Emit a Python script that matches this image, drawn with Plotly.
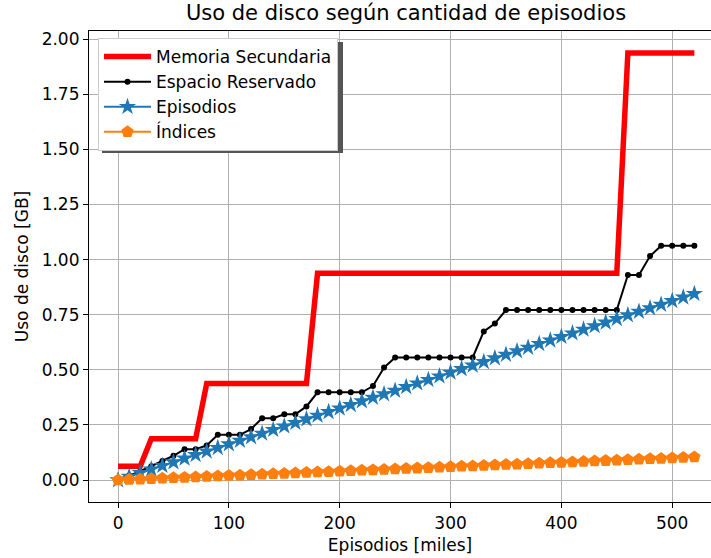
# plot.py — uso de disco según cantidad de episodios (réplica del gráfico matplotlib).

import plotly.graph_objects as go

FONT = "DejaVu Sans"

episodios_miles = [
    0, 10, 20, 30, 40, 50, 60, 70, 80, 90,
    100, 110, 120, 130, 140, 150, 160, 170, 180, 190,
    200, 210, 220, 230, 240, 250, 260, 270, 280, 290,
    300, 310, 320, 330, 340, 350, 360, 370, 380, 390,
    400, 410, 420, 430, 440, 450, 460, 470, 480, 490,
    500, 510, 520,
]

memoria_secundaria = [
    0.0625, 0.0625, 0.0625, 0.1875, 0.1875, 0.1875, 0.1875, 0.1875, 0.4375, 0.4375,
    0.4375, 0.4375, 0.4375, 0.4375, 0.4375, 0.4375, 0.4375, 0.4375, 0.9375, 0.9375,
    0.9375, 0.9375, 0.9375, 0.9375, 0.9375, 0.9375, 0.9375, 0.9375, 0.9375, 0.9375,
    0.9375, 0.9375, 0.9375, 0.9375, 0.9375, 0.9375, 0.9375, 0.9375, 0.9375, 0.9375,
    0.9375, 0.9375, 0.9375, 0.9375, 0.9375, 0.9375, 1.9375, 1.9375, 1.9375, 1.9375,
    1.9375, 1.9375, 1.9375,
]

espacio_reservado = [
    0.004, 0.020, 0.040, 0.063, 0.086, 0.110, 0.140, 0.140, 0.157, 0.205,
    0.205, 0.205, 0.231, 0.280, 0.280, 0.298, 0.298, 0.334, 0.398, 0.398,
    0.398, 0.398, 0.398, 0.426, 0.510, 0.556, 0.556, 0.556, 0.556, 0.556,
    0.556, 0.556, 0.556, 0.674, 0.710, 0.771, 0.771, 0.771, 0.771, 0.771,
    0.771, 0.771, 0.771, 0.771, 0.771, 0.771, 0.930, 0.930, 1.016, 1.063,
    1.063, 1.063, 1.063,
]

episodios = [
    0.000, 0.016, 0.033, 0.049, 0.065, 0.081, 0.098, 0.114, 0.130, 0.146,
    0.163, 0.179, 0.195, 0.211, 0.228, 0.244, 0.260, 0.276, 0.293, 0.309,
    0.325, 0.341, 0.358, 0.374, 0.390, 0.406, 0.423, 0.439, 0.455, 0.471,
    0.488, 0.504, 0.520, 0.536, 0.553, 0.569, 0.585, 0.601, 0.618, 0.634,
    0.650, 0.666, 0.683, 0.699, 0.715, 0.731, 0.748, 0.764, 0.780, 0.796,
    0.813, 0.829, 0.845,
]

indices = [
    0.000, 0.002, 0.004, 0.006, 0.008, 0.010, 0.012, 0.014, 0.016, 0.018,
    0.020, 0.022, 0.024, 0.026, 0.028, 0.030, 0.032, 0.034, 0.036, 0.038,
    0.040, 0.042, 0.044, 0.046, 0.048, 0.050, 0.052, 0.054, 0.056, 0.058,
    0.060, 0.062, 0.064, 0.066, 0.068, 0.070, 0.072, 0.074, 0.076, 0.078,
    0.080, 0.082, 0.084, 0.086, 0.088, 0.090, 0.092, 0.094, 0.096, 0.098,
    0.100, 0.102, 0.104,
]

y_ticks = [0, 0.25, 0.5, 0.75, 1.0, 1.25, 1.5, 1.75, 2.0]
x_ticks = [0, 100, 200, 300, 400, 500]

# área del gráfico en píxeles (izquierda, arriba, ancho, alto)
PL, PT, PW, PH = 89, 31, 622, 471


def px_x(p):
    return (p - PL) / PW


def px_y(p):
    return (PT + PH - p) / PH


fig = go.Figure()
fig.add_trace(go.Scatter(
    x=episodios_miles, y=memoria_secundaria, mode="lines",
    name="Memoria Secundaria", line=dict(color="#ff0000", width=5.5),
))
fig.add_trace(go.Scatter(
    x=episodios_miles, y=espacio_reservado, mode="lines+markers",
    name="Espacio Reservado", line=dict(color="#000000", width=2),
    marker=dict(symbol="circle", size=6, color="#000000", line=dict(width=0)),
))
fig.add_trace(go.Scatter(
    x=episodios_miles, y=episodios, mode="lines+markers",
    name="Episodios", line=dict(color="#1f77b4", width=2),
    marker=dict(symbol="star", size=13, color="#1f77b4", line=dict(width=0)),
))
fig.add_trace(go.Scatter(
    x=episodios_miles, y=indices, mode="lines+markers",
    name="Índices", line=dict(color="#ff7f0e", width=2),
    marker=dict(symbol="pentagon", size=13, color="#ff7f0e", line=dict(width=0)),
))

axis_common = dict(
    showgrid=True, gridcolor="#b0b0b0", gridwidth=1.2, automargin=False,
    zeroline=False, showline=True, linecolor="#000000", linewidth=1.2,
    ticks="outside", ticklen=5, tickwidth=1.2, tickcolor="#000000",
    tickfont=dict(family=FONT, size=17, color="#000000"),
)

fig.update_layout(
    width=711, height=558,
    margin=dict(l=PL, r=711 - PL - PW, t=PT, b=558 - PT - PH),
    paper_bgcolor="white", plot_bgcolor="white",
    font=dict(family=FONT, color="#000000"),
    title=dict(text="Uso de disco según cantidad de episodios",
               font=dict(family=FONT, size=21, color="#000000"),
               x=406 / 711, xref="container", xanchor="center",
               y=1 - 13 / 558, yref="container", yanchor="middle",
               automargin=False),
    xaxis=dict(axis_common, range=[-26.2, 535], tickvals=x_ticks, mirror=True,
               title=dict(text="Episodios [miles]", standoff=7,
                          font=dict(family=FONT, size=17))),
    yaxis=dict(axis_common, range=[-0.0997, 2.037], tickvals=y_ticks,
               tickformat=".2f",
               title=dict(text="Uso de disco [GB]", standoff=8,
                          font=dict(family=FONT, size=17))),
    legend=dict(x=px_x(98), y=px_y(38), xanchor="left", yanchor="top",
                bgcolor="white", bordercolor="#cccccc", borderwidth=1,
                font=dict(family=FONT, size=17, color="#000000"),
                itemwidth=47, tracegroupgap=0),
    showlegend=True,
    # sombra de la leyenda
    shapes=[dict(type="rect", xref="paper", yref="paper",
                 x0=px_x(102), x1=px_x(343), y0=px_y(153), y1=px_y(42),
                 fillcolor="#555555", line=dict(width=0), layer="above")],
)

# sin el margen por defecto del <body>
fig.write_html("out.html", config={"displayModeBar": False},
               post_script="document.body.style.margin='0';")
